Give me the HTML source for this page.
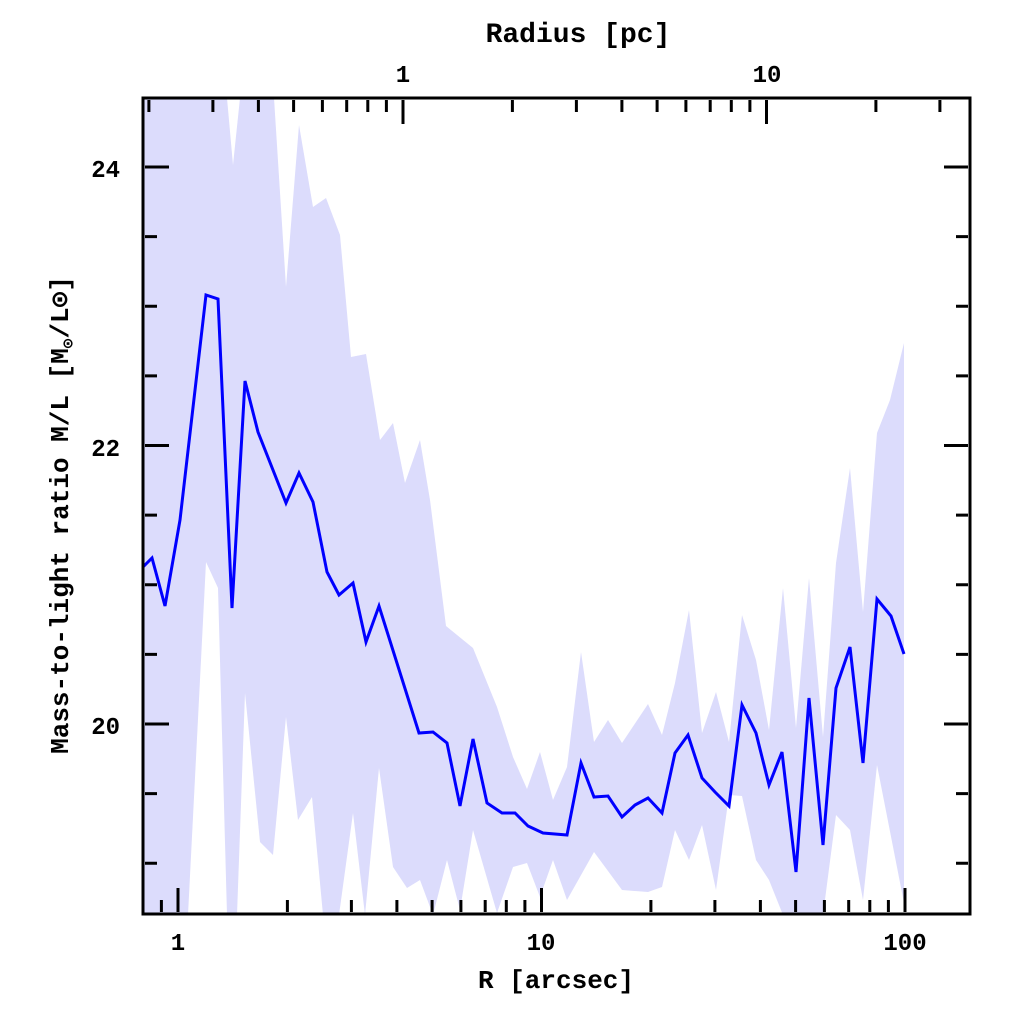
<!DOCTYPE html>
<html><head><style>body{margin:0;background:#fff}svg{display:block}text{font-family:"Liberation Mono","DejaVu Sans Mono",monospace;font-weight:bold;fill:#000}</style></head><body>
<svg width="1024" height="1024" viewBox="0 0 1024 1024">
<defs><clipPath id="c"><rect x="143" y="98" width="827" height="816"/></clipPath></defs>
<g clip-path="url(#c)">
<polygon fill="#dcdcfc" points="143,98 227,98 233,165 240,98 274,98 286,287 299,125 313,207 326,198 340,235 351,357 366,354 380,440 393,423 405,483 420,440 430,500 446,626 473,648 497,707 513,757 527,789 540,752 553,800 567,767 581,652 594,742 608,720 622,743 648,704 662,735 675,683 689,610 702,733 716,692 729,742 742,615 756,660 769,730 783,588 796,728 809,578 823,737 836,563 850,468 863,612 877,433 890,400 904,343 904,903 877,765 863,900 850,830 836,815 823,915 809,915 796,915 783,915 769,880 756,860 742,796 729,795 716,890 702,825 689,860 675,830 662,887 648,892 622,890 594,852 567,900 553,860 540,897 527,863 513,867 497,913 473,830 460,910 447,860 433,915 420,880 407,888 393,867 379,768 365,915 353,813 339,915 323,915 312,797 298,820 286,717 273,855 260,842 245,693 237,915 227,915 218,588 206,562 188,915 143,915"/>
<polyline fill="none" stroke="#0000ff" stroke-width="3" points="143,567 152,558 165,606 180,520 206,295 218,299 232,608 245,381 258,432 286,503 299,473 313,502 327,572 339,595 353,583 366,642 379,606 419,733 433,732 447,743 460,806 473,739 487,803 502,813 515,813 528,826 543,833 567,835 581,763 594,797 608,796 622,817 635,805 648,798 662,813 675,753 688,735 702,778 715,792 729,806 742,705 756,733 769,785 782,752 796,872 809,698 823,845 836,688 850,647 863,763 877,599 891,616 904,654"/>
</g>
<rect x="143" y="98" width="827" height="816" fill="none" stroke="#000" stroke-width="3"/>
<g stroke="#000" stroke-width="3">
<path d="M161.4,912v-12M178,912v-24M287.4,912v-12M351.4,912v-12M396.9,912v-12M432.1,912v-12M460.9,912v-12M485.2,912v-12M506.3,912v-12M524.9,912v-12M541.5,912v-24M650.9,912v-12M714.9,912v-12M760.4,912v-12M795.6,912v-12M824.4,912v-12M848.7,912v-12M869.8,912v-12M888.4,912v-12M905,912v-24"/>
<path d="M148.9,100v12M212.9,100v12M258.4,100v12M293.6,100v12M322.4,100v12M346.7,100v12M367.8,100v12M386.4,100v12M403,100v24M512.4,100v12M576.4,100v12M621.9,100v12M657.1,100v12M685.9,100v12M710.2,100v12M731.3,100v12M749.9,100v12M766.5,100v24M875.9,100v12M939.9,100v12"/>
<path d="M145,863.25h12M145,793.6h12M145,724h24M145,654.4h12M145,584.75h12M145,515.1h12M145,445.5h24M145,375.9h12M145,306.25h12M145,236.6h12M145,167h24"/>
<path d="M968,863.25h-12M968,793.6h-12M968,724h-24M968,654.4h-12M968,584.75h-12M968,515.1h-12M968,445.5h-24M968,375.9h-12M968,306.25h-12M968,236.6h-12M968,167h-24"/>
</g>
<g font-size="24" text-anchor="end">
<text x="120" y="177">24</text><text x="120" y="456">22</text><text x="120" y="734">20</text>
</g>
<g font-size="24" text-anchor="middle">
<text x="178" y="950">1</text><text x="541" y="950">10</text><text x="905" y="950">100</text>
<text x="403" y="82">1</text><text x="767" y="82">10</text>
</g>
<text x="556" y="988" font-size="26" text-anchor="middle">R [arcsec]</text>
<text x="578" y="42" font-size="28" text-anchor="middle">Radius [pc]</text>
<text transform="translate(68,515) rotate(-90)" font-size="26" text-anchor="middle">Mass-to-light ratio M/L [M<tspan font-size="16" dy="5">⊙</tspan><tspan dy="-5">/L⊙]</tspan></text>
</svg>
</body></html>
